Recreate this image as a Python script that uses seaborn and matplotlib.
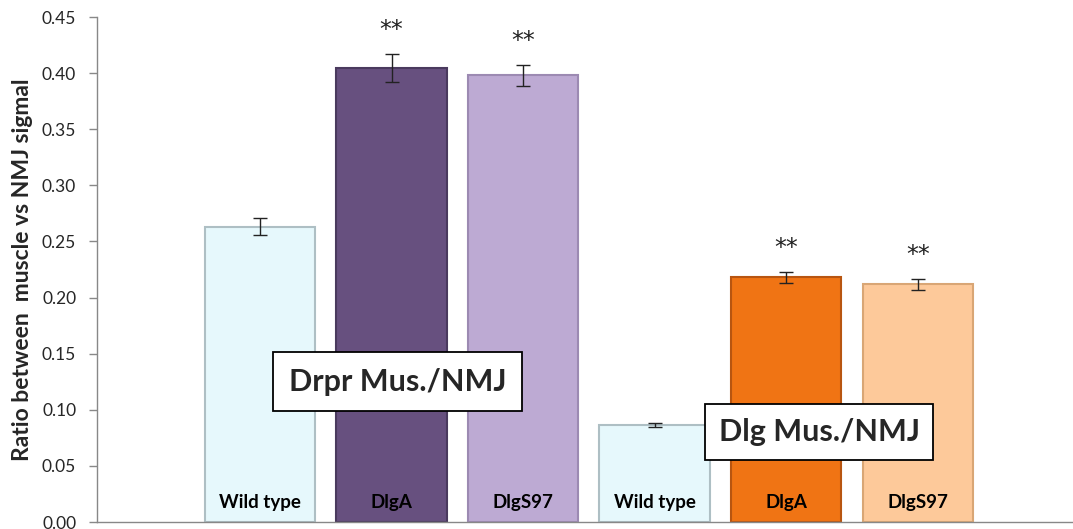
import matplotlib
matplotlib.use("Agg")
import matplotlib.pyplot as plt
import seaborn as sns
import pandas as pd
import numpy as np

groups = ["Wild type", "DlgA", "DlgS97", "Wild type", "DlgA", "DlgS97"]
values = [0.263, 0.405, 0.398, 0.0865, 0.218, 0.212]
errors = [0.0075, 0.0125, 0.0095, 0.002, 0.005, 0.005]
stars = ["", "**", "**", "", "**", "**"]
colors = ["#E6F8FC", "#67507F", "#BDAAD3", "#E6F8FC", "#F07414", "#FDC99A"]
edges = ["#AEBFC4", "#4A3A5E", "#9C8AB2", "#AEBFC4", "#B85510", "#D9A675"]
box_labels = ["Drpr Mus./NMJ", "Dlg Mus./NMJ"]
ylabel = "Ratio between  muscle vs NMJ sigmal"

sns.set_style("white")
plt.rcParams["font.family"] = ["Lato", "DejaVu Sans"]

df = pd.DataFrame({"pos": [str(i) for i in range(len(values))], "value": values})

fig = plt.figure(figsize=(10.73, 5.29), dpi=100)
ax = fig.add_axes([0.0904, 0.0132, 0.9096, 0.9546])
sns.barplot(data=df, x="pos", y="value", hue="pos", palette=colors, legend=False,
            width=0.84, ax=ax, errorbar=None, saturation=1)
for p, ec in zip(ax.patches, edges):
    p.set_edgecolor(ec)
    p.set_linewidth(1.5)

x = np.arange(len(values))
ax.errorbar(x, values, yerr=errors, fmt="none", ecolor="#222222", elinewidth=1, capsize=5, capthick=1)
for xi, v, e, s in zip(x, values, errors, stars):
    if s:
        ax.text(xi, v + e + 0.021, s, ha="center", va="center", fontsize=17,
                color="#222222", family="DejaVu Sans")
for xi, g in zip(x, groups):
    ax.text(xi, 0.0175, g, ha="center", va="center", fontsize=13.5, fontweight="bold", color="black")

ax.text(1.046, 0.1252, box_labels[0], ha="center", va="center", fontsize=22, fontweight="bold",
        bbox=dict(boxstyle="square,pad=0.52", facecolor="white", edgecolor="black", linewidth=1.3))
ax.text(4.25, 0.0802, box_labels[1], ha="center", va="center", fontsize=22, fontweight="bold",
        bbox=dict(boxstyle="square,pad=0.45", facecolor="white", edgecolor="black", linewidth=1.3))

ax.set_xlim(-1.24, 6.18)
ax.set_ylim(0, 0.45)
ax.set_yticks(np.arange(0, 0.451, 0.05))
ax.set_yticklabels([f"{t:.2f}" for t in np.arange(0, 0.451, 0.05)], fontsize=12.5)
ax.set_xticks([])
ax.set_xlabel("")
ax.set_ylabel(ylabel, fontsize=16.5, fontweight="bold", labelpad=6)
for s in ["top", "right"]:
    ax.spines[s].set_visible(False)
for s in ["left", "bottom"]:
    ax.spines[s].set_color("#888888")
    ax.spines[s].set_linewidth(1)
ax.tick_params(axis="y", which="both", left=True, length=6, color="#888888", width=1, pad=9)

fig.savefig("out.png", dpi=100)
